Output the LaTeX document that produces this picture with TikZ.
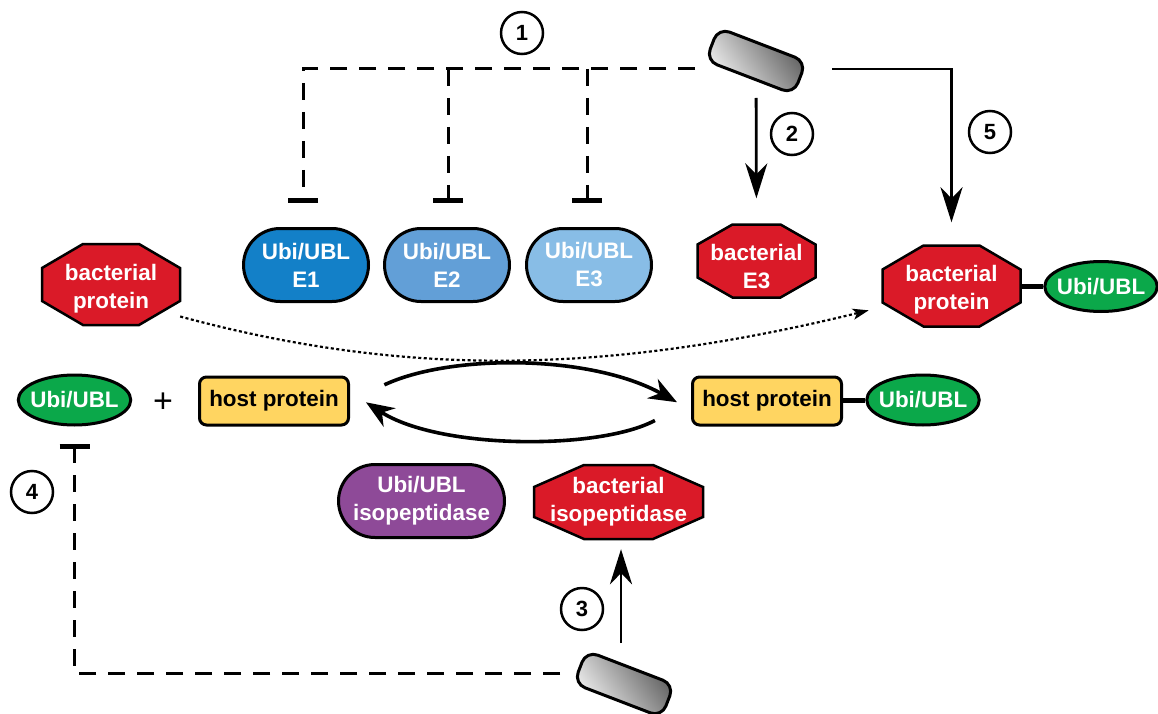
\documentclass[tikz,border=0pt]{standalone}
\usepackage{fontspec}
\setmainfont{Liberation Sans}
\usetikzlibrary{shapes.misc, shapes.geometric, arrows.meta, calc}
\definecolor{redbac}{HTML}{DA1A28}
\definecolor{greenubi}{HTML}{0BA84A}
\definecolor{yellowhost}{HTML}{FFD561}
\definecolor{purpleiso}{HTML}{8E4A98}
\definecolor{blueone}{HTML}{1380C8}
\definecolor{bluetwo}{HTML}{629FD7}
\definecolor{bluethree}{HTML}{88BDE6}
\tikzset{
  boxtext/.style={font=\fontsize{22.4}{28}\selectfont\bfseries, align=center, inner sep=0pt},
  enzyme/.style={boxtext, draw, line width=3pt, rounded rectangle, minimum width=125pt, minimum height=73pt, text=white},
  bacoutline/.style={draw, line width=2.5pt, fill=redbac, line join=miter},
  bactext/.style={boxtext, text=white},
  ubitag/.style={boxtext, draw, line width=3pt, ellipse, fill=greenubi, text=white, inner xsep=-4.4pt, minimum height=50pt},
  hostbox/.style={boxtext, draw, line width=3pt, rectangle, rounded corners=7pt, fill=yellowhost, minimum width=149pt, minimum height=48pt},
  effector/.style={draw, line width=3pt, rectangle, rounded corners=12pt, minimum width=94pt, minimum height=35pt, rotate=-21, shading=axis, left color=gray!8, right color=gray!70!black, shading angle=125},
  stepnum/.style={draw, line width=2.5pt, circle, minimum size=42pt, inner sep=0pt, font=\fontsize{22}{24}\selectfont\bfseries},
  blocked/.style={line width=3pt, dash pattern=on 17pt off 12pt, -{Bar[width=30pt,line width=5.5pt]}},
  solidarrow/.style={line width=2.8pt, -{Stealth[length=35pt,width=22pt,inset=11pt]}},
  curvearrow/.style={line width=3.6pt, -{Stealth[length=28pt,width=22pt,inset=9pt]}},
  dotarrow/.style={line width=2.2pt, dash pattern=on 3pt off 2.5pt, -{Stealth[length=16pt,width=11pt,inset=4pt]}},
  bondline/.style={line width=5pt}
}
% name, x, y, half width, half height, chamfer x, chamfer y, text, text drop
\newcommand{\bacnode}[9]{
  \path[bacoutline] (#2-#4+#6,#3-#5) -- (#2+#4-#6,#3-#5) -- (#2+#4,#3-#5+#7) -- (#2+#4,#3+#5-#7)
    -- (#2+#4-#6,#3+#5) -- (#2-#4+#6,#3+#5) -- (#2-#4,#3+#5-#7) -- (#2-#4,#3-#5+#7) -- cycle;
  \node[bactext, minimum width=2*#4, minimum height=2*#5] (#1) at (#2,#3+#9) {#8};
}
\begin{document}
\begin{tikzpicture}[x=1pt, y=-1pt]
  \useasboundingbox (0,0) rectangle (1158,714);

  % Effectors
  \node[effector] (pillTop) at (756,61) {};
  \node[effector] (pillBot) at (624,684) {};

  % Ubi/UBL enzymes
  \node[enzyme, fill=blueone] (ubiEA) at (306,265) {Ubi/UBL\\E1};
  \node[enzyme, fill=bluetwo] (ubiEB) at (447,265) {Ubi/UBL\\E2};
  \node[enzyme, fill=bluethree] (ubiEC) at (589,265) {Ubi/UBL\\E3};
  \node[enzyme, fill=purpleiso, minimum width=166pt] (ubiIso) at (421.5,501) {Ubi/UBL\\isopeptidase};

  % Bacterial proteins
  \bacnode{bacE}{756.5}{261}{59}{36.5}{35}{20}{bacterial\\E3}{6}
  \bacnode{bacL}{111}{284.5}{69}{40.5}{41}{24}{bacterial\\protein}{4}
  \bacnode{bacR}{951.5}{286}{69}{40.5}{41}{24}{bacterial\\protein}{4}
  \bacnode{bacIso}{618.5}{502}{84.5}{37}{50}{22}{bacterial\\isopeptidase}{0}

  % Substrates
  \node[ubitag] (ubiL) at (74.5,400) {Ubi/UBL};
  \node[boxtext, font=\fontsize{34}{34}\selectfont] (plus) at (163,403) {+};
  \node[hostbox] (hostL) at (274,401) {host protein};
  \node[hostbox] (hostR) at (767,401) {host protein};
  \node[ubitag] (ubiH) at (923,400) {Ubi/UBL};
  \node[ubitag] (ubiB) at (1101,286.5) {Ubi/UBL};

  % Step numbers
  \node[stepnum] (numA) at (522,33) {1};
  \node[stepnum] (numB) at (792,134) {2};
  \node[stepnum] (numC) at (582,609) {3};
  \node[stepnum] (numD) at (32,492) {4};
  \node[stepnum] (numE) at (990,132) {5};

  % Free ends
  \coordinate (outA) at (695,69);
  \coordinate (outB) at (560,673);
  \coordinate (outC) at (832,69);
  \coordinate (outD) at (621,643);
  \coordinate (jA) at (303,69);
  \coordinate (jB) at (448,69);
  \coordinate (jC) at (587,69);

  % Inhibition
  \draw[blocked, shorten >=24pt] (outA) -- (jA) -- (jA |- ubiEA.north);
  \draw[blocked, shorten >=24pt] (jB) -- (jB |- ubiEB.north);
  \draw[blocked, shorten >=24pt] (jC) -- (jC |- ubiEC.north);
  \draw[blocked, shorten >=17pt] (outB) -| (ubiL.south);

  % Activation
  \draw[solidarrow, shorten <=37pt, shorten >=32pt] (pillTop.center) -- (bacE.north);
  \draw[solidarrow, shorten >=27pt] (outC) -| (bacR.north);
  \draw[solidarrow, shorten >=10pt] (outD) -- ([xshift=2.5pt]bacIso.south);

  % Conjugation cycle
  \draw[curvearrow, shorten <=38pt, shorten >=16pt] (hostL.east) .. controls (450,354) and (590,354) .. ([yshift=-9pt]hostR.west);
  \draw[curvearrow, shorten <=41pt, shorten >=19pt] (hostR.west) .. controls (600,450) and (440,450) .. ([yshift=9pt]hostL.east);
  \draw[dotarrow, shorten >=14pt] ([yshift=-28pt]bacL.east) .. controls (400,376) and (600,376) .. ([yshift=-17pt]bacR.west);

  % Bonds
  \draw[bondline] (hostR.east |- ubiH) -- (ubiH);
  \draw[bondline] (bacR.east |- ubiB) -- (ubiB);
\end{tikzpicture}
\end{document}
